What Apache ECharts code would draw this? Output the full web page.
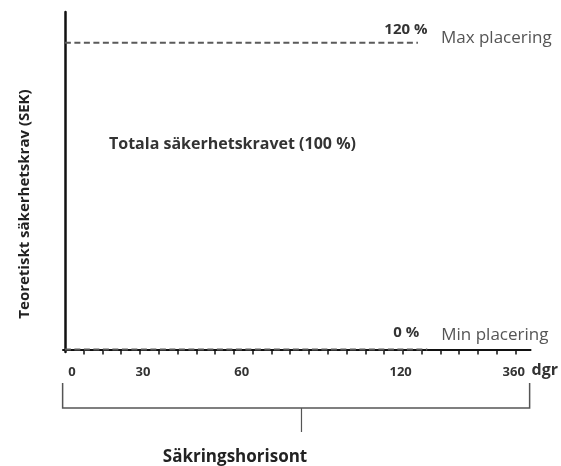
<!DOCTYPE html>
<html>
<head>
<meta charset="utf-8">
<script src="https://cdn.jsdelivr.net/npm/echarts@6/dist/echarts.min.js"></script>
<style>
html,body{margin:0;padding:0;background:#fff;}
#c{width:561px;height:466px;}
</style>
</head>
<body>
<div id="c"></div>
<script>
// ---- data ----
var tickValues = [1,2,3,4,5,6,7,8,9,10,11,12,13,14,15,16,17,18,19,20,21,22,23,24];
var labelValues = [0.38, 4.16, 9.42, 17.88, 23.9];
var labelTexts = ['0', '30', '60', '120', '360'];
var maxLineX = [0, 18.8];
var maxLineY = [120, 120];
var minLineX = [0, 19.3];
var minLineY = [0, 0];
var lineNames = ['Max placering', 'Min placering'];
var levelLabels = ['120 %', '0 %'];
var bracketX = [-0.12, 12.6, 24.75];

var FONT = '"Open Sans"';
var chart = echarts.init(document.getElementById('c'), null, {renderer: 'canvas'});

function pairs(xs, ys) { return xs.map(function (x, i) { return [x, ys[i]]; }); }

var lineStyle = {color: '#5a5a5a', width: 2, type: [6, 3.5]};

var option = {
  backgroundColor: '#ffffff',
  animation: false,
  grid: {left: 63, right: 30, top: 12, bottom: 114, containLabel: false},
  xAxis: {
    type: 'value', min: -0.1, max: 24.8,
    name: 'dgr', nameLocation: 'end', nameGap: 1,
    nameTextStyle: {fontFamily: FONT, fontSize: 16, fontWeight: 'bold', color: '#333', align: 'left', verticalAlign: 'top', padding: [13, 0, 0, 0]},
    axisLine: {show: true, lineStyle: {color: '#111', width: 2}},
    axisTick: {show: true, customValues: tickValues, length: 5, lineStyle: {color: '#111', width: 1.5}},
    axisLabel: {show: true, customValues: labelValues, margin: 14,
      formatter: function (v) { var i = labelValues.indexOf(v); return i >= 0 ? labelTexts[i] : ''; },
      fontFamily: FONT, fontSize: 13, fontWeight: 'bold', color: '#333'},
    splitLine: {show: false}
  },
  yAxis: {
    type: 'value', min: -1, max: 132,
    axisLine: {show: true, lineStyle: {color: '#111', width: 2.5}},
    axisTick: {show: false}, axisLabel: {show: false}, splitLine: {show: false}
  },
  series: [
    {
      type: 'line', data: pairs(maxLineX, maxLineY), symbol: 'none', lineStyle: lineStyle, z: 3,
      endLabel: {show: true, formatter: lineNames[0], distance: 23, offset: [0, -5],
        fontFamily: FONT, fontSize: 17, color: '#555'},
      markPoint: {symbol: 'circle', symbolSize: 0, data: [{coord: [maxLineX[1], maxLineY[1]], value: levelLabels[0]}],
        label: {show: true, position: 'top', distance: 5, offset: [-12, 0], formatter: levelLabels[0],
          fontFamily: FONT, fontSize: 15, fontWeight: 'bold', color: '#333'}}
    },
    {
      type: 'line', data: pairs(minLineX, minLineY), symbol: 'none', lineStyle: lineStyle, z: 3,
      endLabel: {show: true, formatter: lineNames[1], distance: 14, offset: [0, -14],
        fontFamily: FONT, fontSize: 17, color: '#555'},
      markPoint: {symbol: 'circle', symbolSize: 0, data: [{coord: [minLineX[1], minLineY[1]], value: levelLabels[1]}],
        label: {show: true, position: 'top', distance: 9, offset: [-21, 0], formatter: levelLabels[1],
          fontFamily: FONT, fontSize: 15, fontWeight: 'bold', color: '#333'}}
    }
  ]
};
chart.setOption(option);

var pL = chart.convertToPixel({gridIndex: 0}, [bracketX[0], 0]);
var pM = chart.convertToPixel({gridIndex: 0}, [bracketX[1], 0]);
var pR = chart.convertToPixel({gridIndex: 0}, [bracketX[2], 0]);
var yTop = 383, yBar = 408, yTick = 432;

chart.setOption({
  graphic: [
    {type: 'text', left: 109, top: 136,
      style: {text: 'Totala säkerhetskravet (100 %)', font: 'bold 16px ' + FONT, fill: '#333'}},
    {type: 'text', x: 25, y: 204, rotation: Math.PI / 2,
      style: {text: 'Teoretiskt säkerhetskrav (SEK)', font: 'bold 15px ' + FONT, fill: '#222', align: 'center', verticalAlign: 'middle'}},
    {type: 'polyline', shape: {points: [[pL[0], yTop], [pL[0], yBar], [pR[0], yBar], [pR[0], yTop]]},
      style: {stroke: '#555', lineWidth: 1.5, fill: null}},
    {type: 'line', shape: {x1: pM[0], y1: yBar, x2: pM[0], y2: yTick}, style: {stroke: '#555', lineWidth: 1.2}},
    {type: 'text', x: 235, y: 457,
      style: {text: 'Säkringshorisont', font: 'bold 17px ' + FONT, fill: '#222', align: 'center', verticalAlign: 'middle'}}
  ]
});
</script>
</body>
</html>
